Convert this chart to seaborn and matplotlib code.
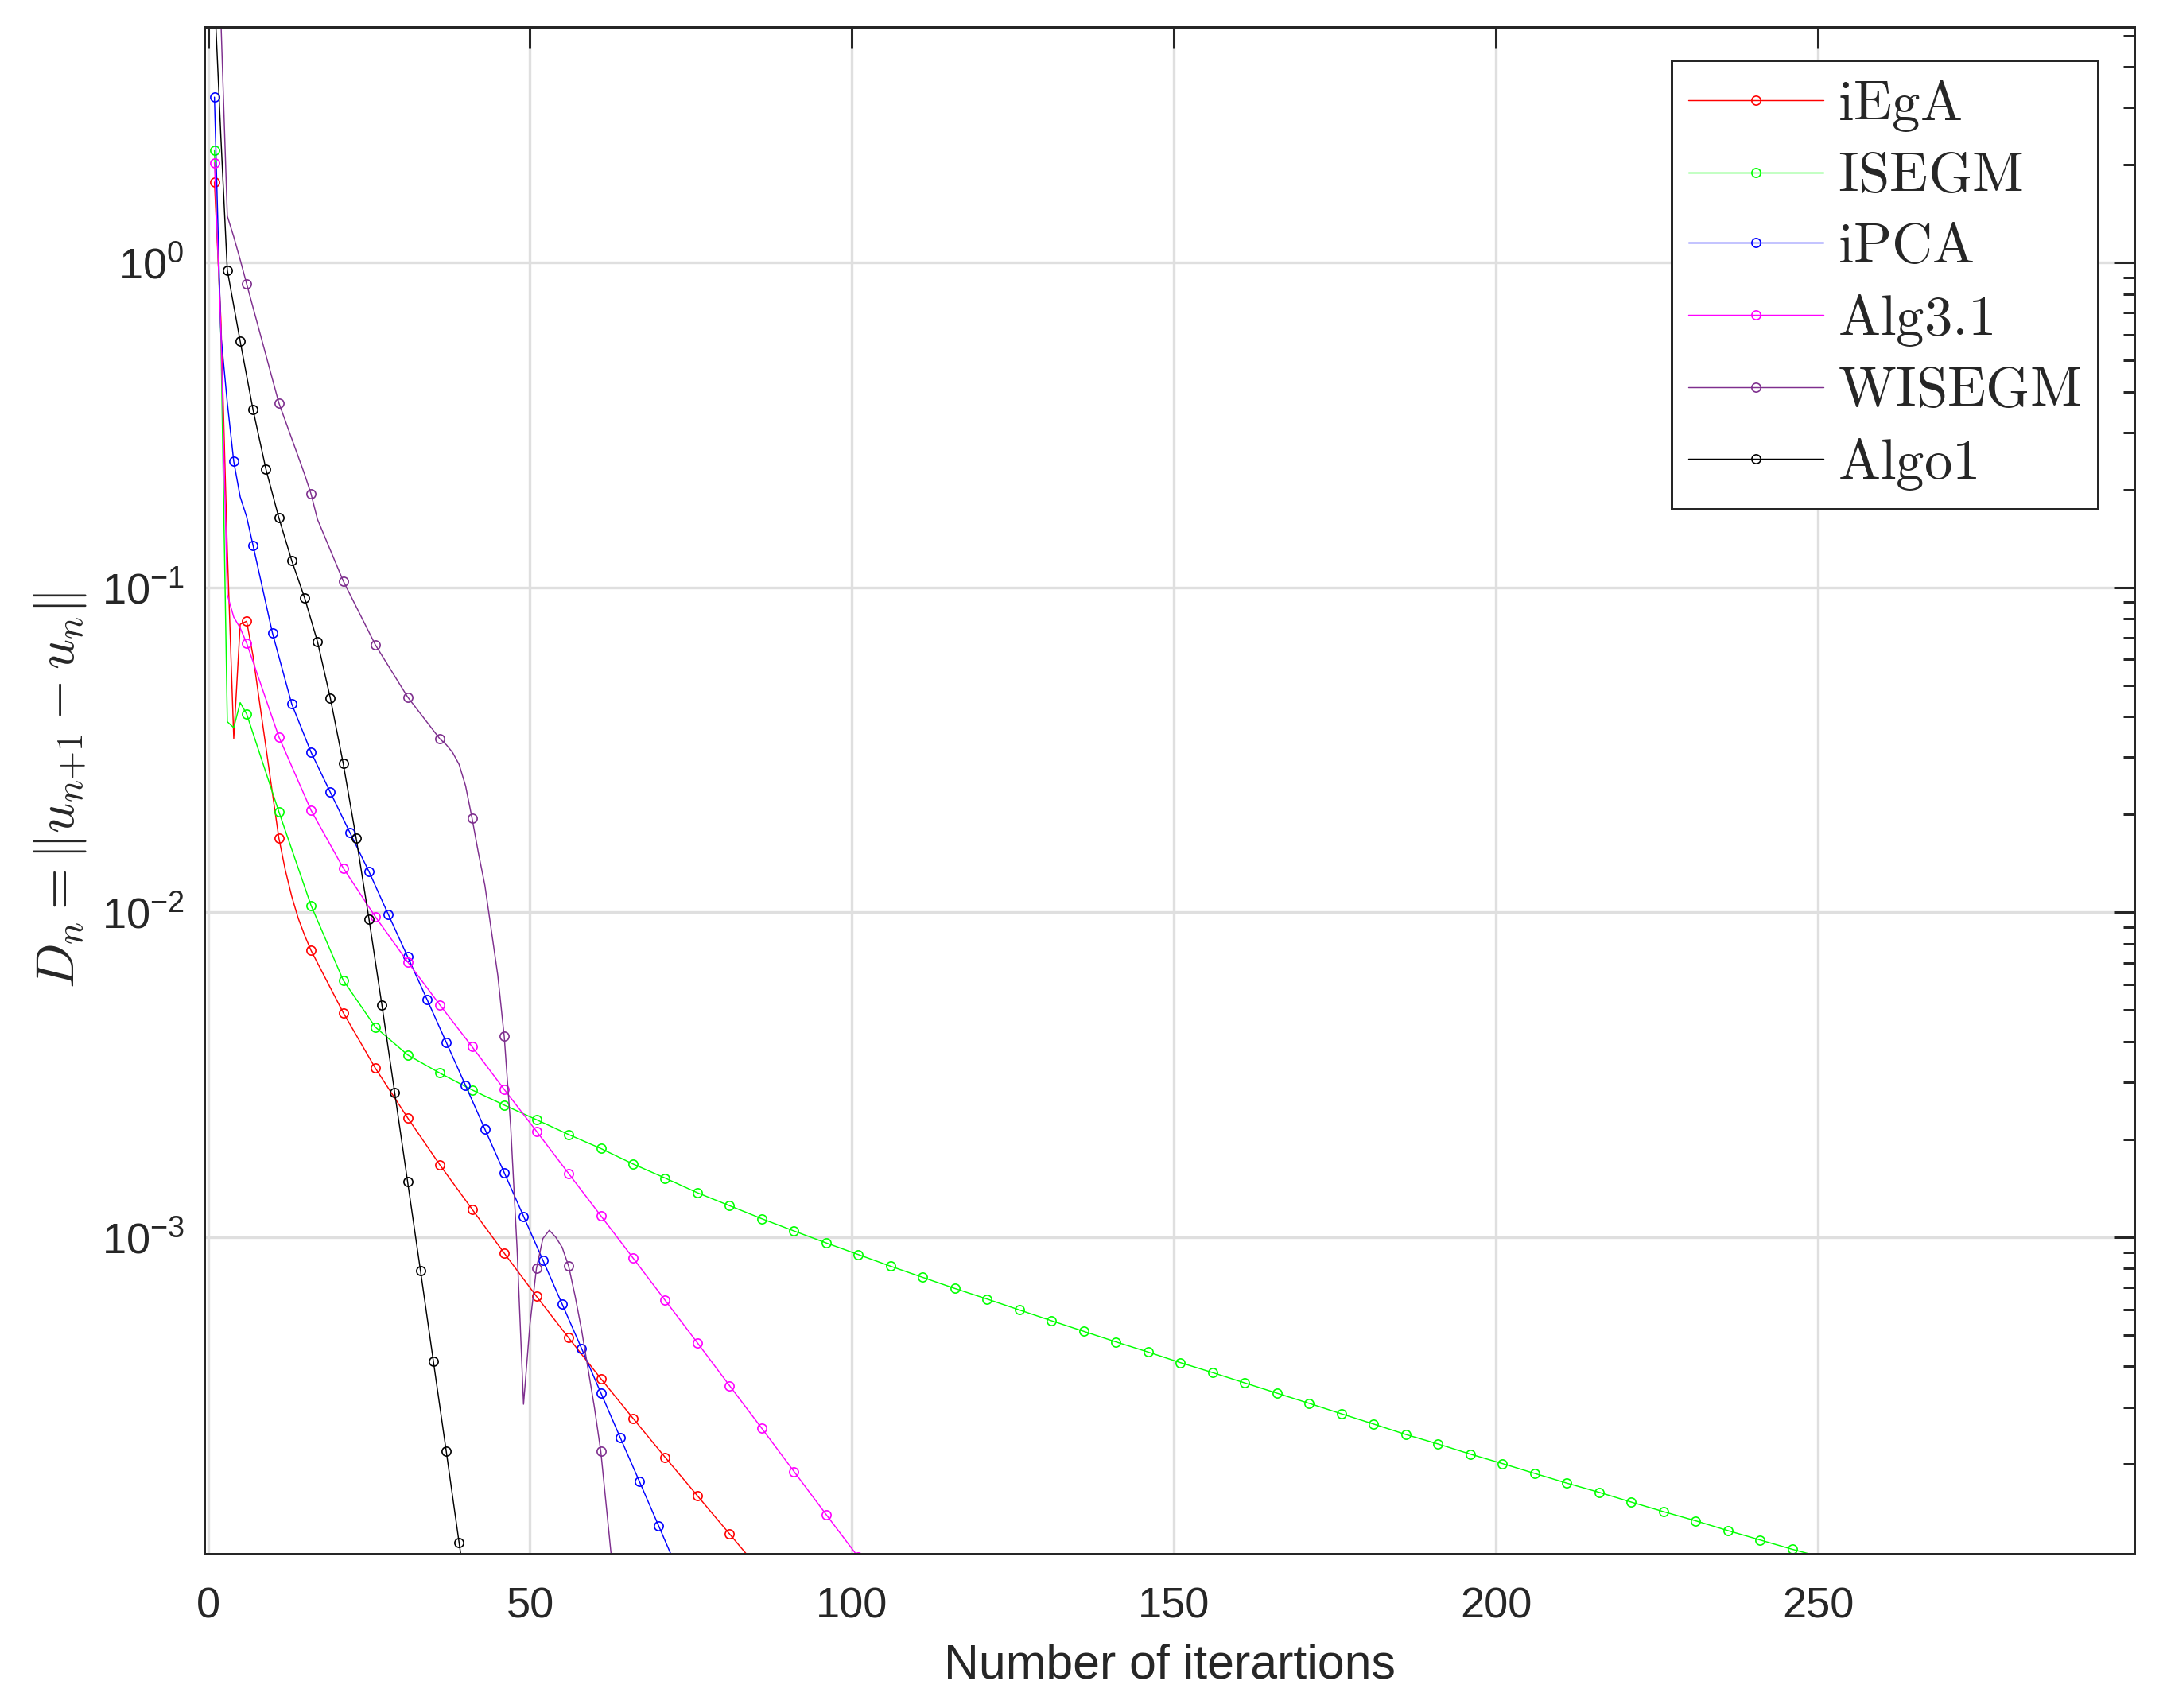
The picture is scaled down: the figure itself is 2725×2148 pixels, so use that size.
import math
import matplotlib
matplotlib.use("Agg")
import matplotlib.pyplot as plt
import matplotlib.ticker as mticker
import seaborn as sns

# iteration numbers / D_n values
it_iega = [1, 2, 3, 4, 5, 6, 7, 8, 9, 10, 11, 12, 13, 14, 15, 16, 21, 26, 31, 36,
           41, 46, 51, 56, 61, 66, 71, 76, 81, 86]
d_iega = [1.77, 0.67, 0.13, 0.0343, 0.077, 0.0787, 0.0614, 0.0444, 0.0322, 0.0233,
          0.01694, 0.0135, 0.0112, 0.0096, 0.0085, 0.00763, 0.00491, 0.00331, 0.00233,
          0.00167, 0.00122, 8.93e-4, 6.58e-4, 4.9e-4, 3.67e-4, 2.77e-4, 2.1e-4,
          1.6e-4, 1.22e-4, 9.3e-5]

it_isegm = [1, 2, 3, 4, 5, 6, 11, 16, 21, 26, 31, 36, 41, 46, 51, 56, 61, 66, 71, 76,
            81, 86, 91, 96, 101, 106, 111, 116, 121, 126, 131, 136, 141, 146, 151, 156,
            161, 166, 171, 176, 181, 186, 191, 196, 201, 206, 211, 216, 221, 226, 231,
            236, 241, 246, 251]
d_isegm = [2.21, 0.6, 0.0386, 0.037, 0.0442, 0.0408, 0.0204, 0.0105, 0.00618, 0.00443,
           0.00364, 0.0032, 0.00284, 0.00255, 0.0023, 0.00207, 0.001875, 0.00168,
           0.00152, 0.00137, 0.00125, 0.00114, 0.001045, 9.6e-4, 8.84e-4, 8.14e-4,
           7.52e-4, 6.95e-4, 6.45e-4, 5.97e-4, 5.53e-4, 5.13e-4, 4.76e-4, 4.43e-4,
           4.11e-4, 3.83e-4, 3.56e-4, 3.31e-4, 3.08e-4, 2.86e-4, 2.66e-4, 2.47e-4,
           2.31e-4, 2.15e-4, 2.01e-4, 1.875e-4, 1.75e-4, 1.64e-4, 1.53e-4, 1.43e-4,
           1.34e-4, 1.25e-4, 1.17e-4, 1.095e-4, 1.03e-4]

it_ipca = [1, 2, 3, 4, 5, 6, 7, 10, 13, 16, 19, 22, 25, 28, 31, 34, 37, 40, 43, 46,
           49, 52, 55, 58, 61, 64, 67, 70, 73]
d_ipca = [3.23, 0.6, 0.37, 0.244, 0.19, 0.165, 0.1346, 0.0725, 0.0438, 0.0311, 0.0234,
          0.01765, 0.01334, 0.00985, 0.0073, 0.0054, 0.00398, 0.00293, 0.00215,
          0.00158, 0.00116, 8.5e-4, 6.22e-4, 4.55e-4, 3.32e-4, 2.42e-4, 1.77e-4,
          1.29e-4, 9.4e-5]

it_alg31 = [1, 2, 3, 4, 5, 6, 11, 16, 21, 26, 31, 36, 41, 46, 51, 56, 61, 66, 71, 76,
            81, 86, 91, 96, 101]
d_alg31 = [2.03, 0.62, 0.095, 0.081, 0.075, 0.0674, 0.0347, 0.0206, 0.01369, 0.00968,
           0.00704, 0.00519, 0.00386, 0.00285, 0.00212, 0.00157, 0.001164, 8.63e-4,
           6.39e-4, 4.73e-4, 3.49e-4, 2.58e-4, 1.9e-4, 1.4e-4, 1.035e-4]

it_wisegm = [1, 2, 3, 4, 5, 6, 11, 15, 16, 17, 21, 26, 31, 36, 37, 38, 39, 40, 41, 42,
             43, 44, 45, 46, 47, 48, 49, 50, 51, 52, 53, 54, 55, 56, 57, 58, 59, 60,
             61, 62, 63]
d_wisegm = [12.0, 5.6, 1.39, 1.2, 1.02, 0.86, 0.37, 0.223, 0.194, 0.162, 0.1047, 0.0665,
            0.046, 0.0342, 0.0328, 0.031, 0.0285, 0.0245, 0.0195, 0.0152, 0.0121,
            0.0088, 0.0064, 0.00415, 0.0022, 9.2e-4, 3.06e-4, 5.4e-4, 8.0e-4, 9.9e-4,
            1.05e-3, 1.0e-3, 9.3e-4, 8.15e-4, 6.6e-4, 5.2e-4, 3.95e-4, 3.0e-4,
            2.19e-4, 1.39e-4, 8.8e-5]

it_algo1 = [1, 2, 3, 5, 7, 9, 11, 13, 15, 17, 19, 21, 23, 25, 27, 29, 31, 33, 35, 37,
            39, 40]
d_algo1 = [6.7, 2.43, 0.947, 0.572, 0.352, 0.231, 0.1638, 0.121, 0.0929, 0.0681,
           0.0456, 0.0287, 0.01695, 0.00954, 0.00519, 0.00278, 0.00148, 7.88e-4,
           4.15e-4, 2.19e-4, 1.145e-4, 8.3e-5]

labels = ["iEgA", "ISEGM", "iPCA", "Alg3.1", "WISEGM", "Algo1"]
colors = ["#ff0000", "#00ff00", "#0000ff", "#ff00ff", "#7e2f8e", "#000000"]
mark_step = [5, 5, 3, 5, 5, 2]

series = [(it_iega, d_iega), (it_isegm, d_isegm), (it_ipca, d_ipca),
          (it_alg31, d_alg31), (it_wisegm, d_wisegm), (it_algo1, d_algo1)]

sns.set_style("white")
plt.rcParams["font.family"] = ["Liberation Sans", "DejaVu Sans"]
plt.rcParams["mathtext.fontset"] = "cm"
dark = "#262626"

fig = plt.figure(figsize=(2725 / 300, 2148 / 300), dpi=300)
ax = fig.add_axes([0.0942, 0.0905, 0.8909, 0.8937])
ax.set_yscale("log")

for (xs, ys), lab, col, step in zip(series, labels, colors, mark_step):
    # markers only on every 'step'-th iteration, starting at 1
    idx = [i for i, v in enumerate(xs) if (v - 1) % step == 0]
    sns.lineplot(x=xs, y=ys, ax=ax, color=col, linewidth=0.35, marker="o",
                 markersize=2.7, markerfacecolor="none", markeredgecolor=col,
                 markeredgewidth=0.4, markevery=idx, label=r"$\mathrm{%s}$" % lab,
                 errorbar=None, sort=False)

ax.set_xlim(-0.6, 299.2)
ax.set_ylim(1.063e-4, 5.31)

ax.set_xticks(range(0, 300, 50))
ax.xaxis.set_minor_locator(mticker.NullLocator())
ax.yaxis.set_major_locator(mticker.LogLocator(base=10, numticks=20))
ax.yaxis.set_minor_locator(mticker.LogLocator(base=10, subs=range(2, 10), numticks=50))
ax.yaxis.set_minor_formatter(mticker.NullFormatter())
ax.yaxis.set_major_formatter(mticker.FuncFormatter(
    lambda v, p: r"$\mathregular{10^{%d}}$" % round(math.log10(v))))

ax.tick_params(which="both", direction="in", top=True, right=True,
               color=dark, labelcolor=dark, width=0.72)
ax.tick_params(which="major", length=6.2, labelsize=13, pad=6)
ax.tick_params(axis="x", which="major", pad=10)
ax.tick_params(which="minor", length=3.4)

ax.grid(True, which="major", color="#dfdfdf", linewidth=0.8)
ax.set_axisbelow(True)
for sp in ax.spines.values():
    sp.set_color(dark)
    sp.set_linewidth(0.72)

ax.set_xlabel("Number of iterartions", fontsize=14.6, color=dark, labelpad=5)
ax.set_ylabel(r"$D_n = \|u_{n{+}1} - u_n\|$", fontsize=16, color=dark, labelpad=4)

leg = ax.legend(loc="upper right", bbox_to_anchor=(0.9681, 0.9644),
                bbox_transform=fig.transFigure, borderaxespad=0, fontsize=17,
                numpoints=1, handlelength=2.4, handletextpad=0.25, borderpad=0.3,
                labelspacing=0.32, fancybox=False, framealpha=1, edgecolor=dark)
leg.get_frame().set_linewidth(0.72)

fig.savefig("out.png", dpi=300)
